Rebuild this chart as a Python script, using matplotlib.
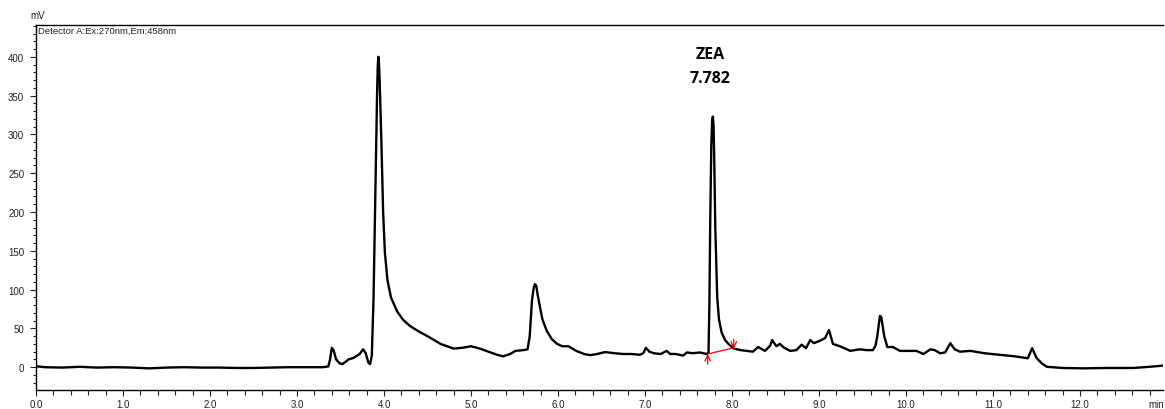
import matplotlib
matplotlib.use("Agg")
import matplotlib.pyplot as plt
from matplotlib.ticker import MultipleLocator, FormatStrFormatter

plt.rcParams['font.family'] = ['Liberation Sans', 'DejaVu Sans']

# chromatogram trace (min, mV)
time = [0.00, 0.02, 0.10, 0.30, 0.50, 0.70, 0.90, 1.10, 1.30, 1.50, 1.70, 1.90,
        2.10, 2.30, 2.50, 2.70, 2.90, 3.10, 3.30, 3.36, 3.38, 3.40, 3.42, 3.45,
        3.49, 3.52, 3.56, 3.59, 3.65, 3.72, 3.76, 3.79, 3.82, 3.84, 3.86, 3.88,
        3.90, 3.92, 3.928, 3.935, 3.942, 3.95, 3.97, 3.99, 4.01, 4.04, 4.08, 4.15,
        4.22, 4.30, 4.40, 4.50, 4.65, 4.80, 4.90, 5.00, 5.10, 5.20, 5.30, 5.37,
        5.45, 5.51, 5.60, 5.65, 5.675, 5.70, 5.72, 5.735, 5.75, 5.765, 5.79, 5.82,
        5.87, 5.93, 5.99, 6.05, 6.12, 6.21, 6.30, 6.37, 6.45, 6.54, 6.65, 6.75,
        6.85, 6.94, 6.98, 7.01, 7.05, 7.10, 7.18, 7.25, 7.29, 7.35, 7.44, 7.48,
        7.55, 7.63, 7.71, 7.73, 7.74, 7.75, 7.762, 7.772, 7.78, 7.788, 7.797, 7.808,
        7.83, 7.85, 7.88, 7.92, 7.96, 8.02, 8.10, 8.17, 8.24, 8.30, 8.38, 8.44,
        8.46, 8.51, 8.55, 8.60, 8.67, 8.74, 8.80, 8.85, 8.90, 8.94, 9.01, 9.07,
        9.115, 9.16, 9.24, 9.30, 9.36, 9.41, 9.47, 9.55, 9.62, 9.65, 9.67, 9.70,
        9.715, 9.75, 9.785, 9.85, 9.93, 10.02, 10.12, 10.20, 10.28, 10.33, 10.39, 10.45,
        10.51, 10.56, 10.62, 10.74, 10.90, 11.08, 11.25, 11.40, 11.45, 11.50, 11.56, 11.62,
        11.80, 12.04, 12.30, 12.61, 12.80, 12.95]
mv = [1, 1, 0, -0.5, 0.5, -0.5, 0, -0.5, -1.5, -0.5, 0, -0.5,
      -0.5, -1, -1, -0.5, 0, 0, 0, 1, 10, 25, 22, 10,
      5, 4, 7, 10, 12, 17, 23, 18, 6, 4, 15, 90,
      220, 350, 388, 400, 392, 370, 290, 200, 148, 112, 90, 72,
      61, 53, 46, 40, 30, 24, 25, 27, 24, 20, 16, 14,
      17, 21, 22, 23, 40, 85, 102, 107, 105, 94, 79, 62,
      47, 36, 30, 27, 27, 21, 17, 15.5, 17, 19.5, 18, 17,
      17, 16, 18, 25, 20, 18, 17, 21, 17, 17, 15, 19,
      18, 19, 17, 19, 80, 190, 285, 318, 323, 312, 260, 180,
      90, 62, 45, 35, 30, 24, 22, 21, 20, 26, 21, 28,
      35, 27, 30, 25, 21, 22, 29, 24.5, 35, 31, 34, 37.5,
      48, 30, 27, 24, 21, 22, 23, 22, 22, 28, 40, 66,
      65, 40, 26, 26, 21, 21, 21, 17, 23, 22, 18, 19,
      31, 23, 20, 21, 18, 16, 14, 11.5, 24.5, 12, 5, 0.5,
      -1, -1.5, -1, -1, 0.5, 2]

# integration baseline of the ZEA peak
base_t = [7.72, 8.02]
base_mv = [17, 25]

peak_name = "ZEA"
peak_rt = 7.782

fig = plt.figure(figsize=(11.65, 4.10), dpi=100)
ax = fig.add_axes([36 / 1165, 19.3 / 410, 1127 / 1165, 364.7 / 410])

ax.plot(time, mv, color='black', lw=1.7, solid_joinstyle='round')

# red baseline with start/end markers
ax.plot(base_t, base_mv, color='red', lw=0.9)
ax.annotate('', xy=(base_t[0], base_mv[0]), xytext=(base_t[0], base_mv[0] - 13),
            arrowprops=dict(arrowstyle='->', color='red', lw=0.9, shrinkA=0, shrinkB=0))
ax.annotate('', xy=(base_t[1], base_mv[1] - 1), xytext=(base_t[1], base_mv[1] + 11),
            arrowprops=dict(arrowstyle='->', color='red', lw=0.9, shrinkA=0, shrinkB=0))

ax.text(7.75, 403, peak_name, ha='center', va='center', fontsize=11.5,
        fontweight='bold', family=['Open Sans', 'DejaVu Sans'])
ax.text(7.75, 373, f"{peak_rt:.3f}", ha='center', va='center', fontsize=11.5,
        fontweight='bold', family=['Open Sans', 'DejaVu Sans'])

ax.set_xlim(0, 12.954)
ax.set_ylim(-29, 441)

ax.xaxis.set_major_locator(MultipleLocator(1.0))
ax.xaxis.set_minor_locator(MultipleLocator(0.2))
ax.xaxis.set_major_formatter(FormatStrFormatter('%.1f'))
ax.yaxis.set_major_locator(MultipleLocator(50))
ax.yaxis.set_minor_locator(MultipleLocator(10))

ax.tick_params(axis='x', which='major', length=4.5, width=0.8, labelsize=7, pad=2.5, colors='#222222')
ax.tick_params(axis='x', which='minor', length=3.5, width=0.8, colors='#222222')
ax.tick_params(axis='y', which='major', length=4.5, width=0.8, labelsize=7, pad=4, colors='#222222')
ax.tick_params(axis='y', which='minor', length=2, width=0.8, colors='#222222')

for s in ['left', 'bottom', 'top']:
    ax.spines[s].set_linewidth(1.0)
ax.spines['right'].set_visible(False)

fig.text(30 / 1165, 1 - 16 / 410, 'mV', fontsize=7, va='center', ha='left', color='#222222')
fig.text(37.5 / 1165, 1 - 31 / 410, 'Detector A:Ex:270nm,Em:458nm', fontsize=6.8,
         va='center', ha='left', color='#222222')
fig.text(1148 / 1165, 1 - 405 / 410, 'min', fontsize=7, va='center', ha='left', color='#222222')

fig.savefig('out.png', dpi=100)
